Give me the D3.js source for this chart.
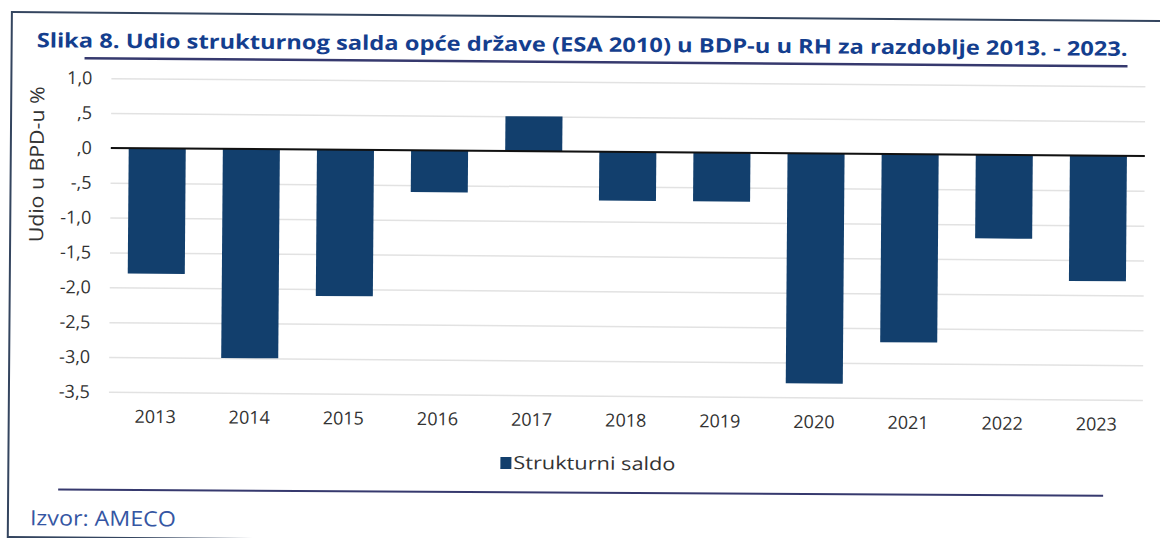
<!DOCTYPE html>
<html>
<head>
<meta charset="utf-8">
<script src="https://cdn.jsdelivr.net/npm/d3@7/dist/d3.min.js"></script>
<style>
    body { margin: 0; background: #fff; }
    svg { display: block; }
</style>
</head>
<body>
<svg id="chart"></svg>
<script>
// data
var years = ["2013", "2014", "2015", "2016", "2017", "2018", "2019", "2020", "2021", "2022", "2023"];
var saldo = [-1.8, -3.0, -2.1, -0.6, 0.5, -0.7, -0.7, -3.3, -2.7, -1.2, -1.8];
var yTicks = [1.0, 0.5, 0, -0.5, -1.0, -1.5, -2.0, -2.5, -3.0, -3.5];
var yTickLabels = ["1,0", ",5", ",0", "-,5", "-1,0", "-1,5", "-2,0", "-2,5", "-3,0", "-3,5"];
var seriesName = "Strukturni saldo";
var titleText = "Slika 8. Udio strukturnog salda opće države (ESA 2010) u BDP-u u RH za razdoblje 2013. - 2023.";
var yAxisTitle = "Udio u BPD-u %";
var sourceText = "Izvor: AMECO";

var params = {
    width: 1160,
    height: 538,
    skew: 0.45,          // the scan is slightly rotated
    plotLeft: 112,
    plotRight: 1146,
    yTop: 77.3,
    yBottom: 391,
    barColor: "#123f6d",
    gridColor: "#e2e2e2",
    textColor: "#333",
    titleColor: "#143e8e",
    sourceColor: "#3556a3",
    lineColor: "#36396e",
    font: "'Open Sans', 'DejaVu Sans', sans-serif"
};

var svg = d3.select("#chart")
    .attr("width", params.width)
    .attr("height", params.height);

var root = svg.append("g")
    .attr("transform", "rotate(" + params.skew + ")");

// frame
root.append("rect")
    .attr("x", 12).attr("y", 12)
    .attr("width", 1180).attr("height", 525)
    .attr("fill", "none")
    .attr("stroke", "#34455f")
    .attr("stroke-width", 2);

// title
root.append("text")
    .attr("x", 37).attr("y", 47)
    .attr("fill", params.titleColor)
    .attr("font-family", params.font)
    .attr("font-weight", 700)
    .attr("font-size", 20)
    .attr("textLength", 1091)
    .attr("lengthAdjust", "spacingAndGlyphs")
    .text(titleText);

root.append("line")
    .attr("x1", 85).attr("x2", 1128)
    .attr("y1", 57.5).attr("y2", 57.5)
    .attr("stroke", params.lineColor)
    .attr("stroke-width", 2.5);

var x = d3.scaleBand()
    .domain(years)
    .range([params.plotLeft, params.plotRight])
    .paddingInner(0.394)
    .paddingOuter(0.19);

var y = d3.scaleLinear()
    .domain([1.0, -3.5])
    .range([params.yTop, params.yBottom]);

// grid
var grid = root.append("g")
    .attr("transform", "translate(" + params.plotLeft + ",0)")
    .call(d3.axisLeft(y)
        .tickValues(yTicks)
        .tickSize(-(params.plotRight - params.plotLeft))
        .tickFormat(""));
grid.select(".domain").remove();
grid.selectAll("line")
    .attr("stroke", params.gridColor)
    .attr("stroke-width", 1.5);

// y tick labels
var yAxis = root.append("g")
    .attr("transform", "translate(" + (params.plotLeft - 6) + ",0)")
    .call(d3.axisLeft(y)
        .tickValues(yTicks)
        .tickSize(0)
        .tickPadding(13)
        .tickFormat(function(d, i) { return yTickLabels[i]; }));
yAxis.select(".domain").remove();
yAxis.selectAll("text")
    .attr("fill", params.textColor)
    .attr("font-family", params.font)
    .attr("font-size", 18);

// bars
root.append("g")
    .selectAll("rect")
    .data(saldo)
    .enter()
    .append("rect")
    .attr("x", function(d, i) { return x(years[i]); })
    .attr("width", x.bandwidth())
    .attr("y", function(d) { return y(Math.max(0, d)); })
    .attr("height", function(d) { return Math.abs(y(d) - y(0)); })
    .attr("fill", params.barColor);

// zero line
root.append("line")
    .attr("x1", params.plotLeft).attr("x2", params.plotRight)
    .attr("y1", y(0)).attr("y2", y(0))
    .attr("stroke", "#111")
    .attr("stroke-width", 2);

// x axis labels
var xAxis = root.append("g")
    .attr("transform", "translate(0," + params.yBottom + ")")
    .call(d3.axisBottom(x).tickSize(0).tickPadding(18));
xAxis.select(".domain").remove();
xAxis.selectAll("text")
    .attr("fill", params.textColor)
    .attr("font-family", params.font)
    .attr("font-size", 18);

// y axis title
root.append("text")
    .attr("transform", "translate(45,164) rotate(-90)")
    .attr("text-anchor", "middle")
    .attr("fill", params.textColor)
    .attr("font-family", params.font)
    .attr("font-size", 19.5)
    .attr("textLength", 156)
    .attr("lengthAdjust", "spacingAndGlyphs")
    .text(yAxisTitle);

// legend
root.append("rect")
    .attr("x", 504).attr("y", 453)
    .attr("width", 11).attr("height", 12)
    .attr("fill", params.barColor);
root.append("text")
    .attr("x", 517).attr("y", 465)
    .attr("fill", params.textColor)
    .attr("font-family", params.font)
    .attr("font-size", 18)
    .attr("textLength", 162)
    .attr("lengthAdjust", "spacingAndGlyphs")
    .text(seriesName);

// bottom rule and source
root.append("line")
    .attr("x1", 62).attr("x2", 1107)
    .attr("y1", 489).attr("y2", 487)
    .attr("stroke", params.lineColor)
    .attr("stroke-width", 2);

root.append("text")
    .attr("x", 34).attr("y", 525)
    .attr("fill", params.sourceColor)
    .attr("font-family", params.font)
    .attr("font-size", 21)
    .attr("textLength", 146)
    .attr("lengthAdjust", "spacingAndGlyphs")
    .text(sourceText);
</script>
</body>
</html>
